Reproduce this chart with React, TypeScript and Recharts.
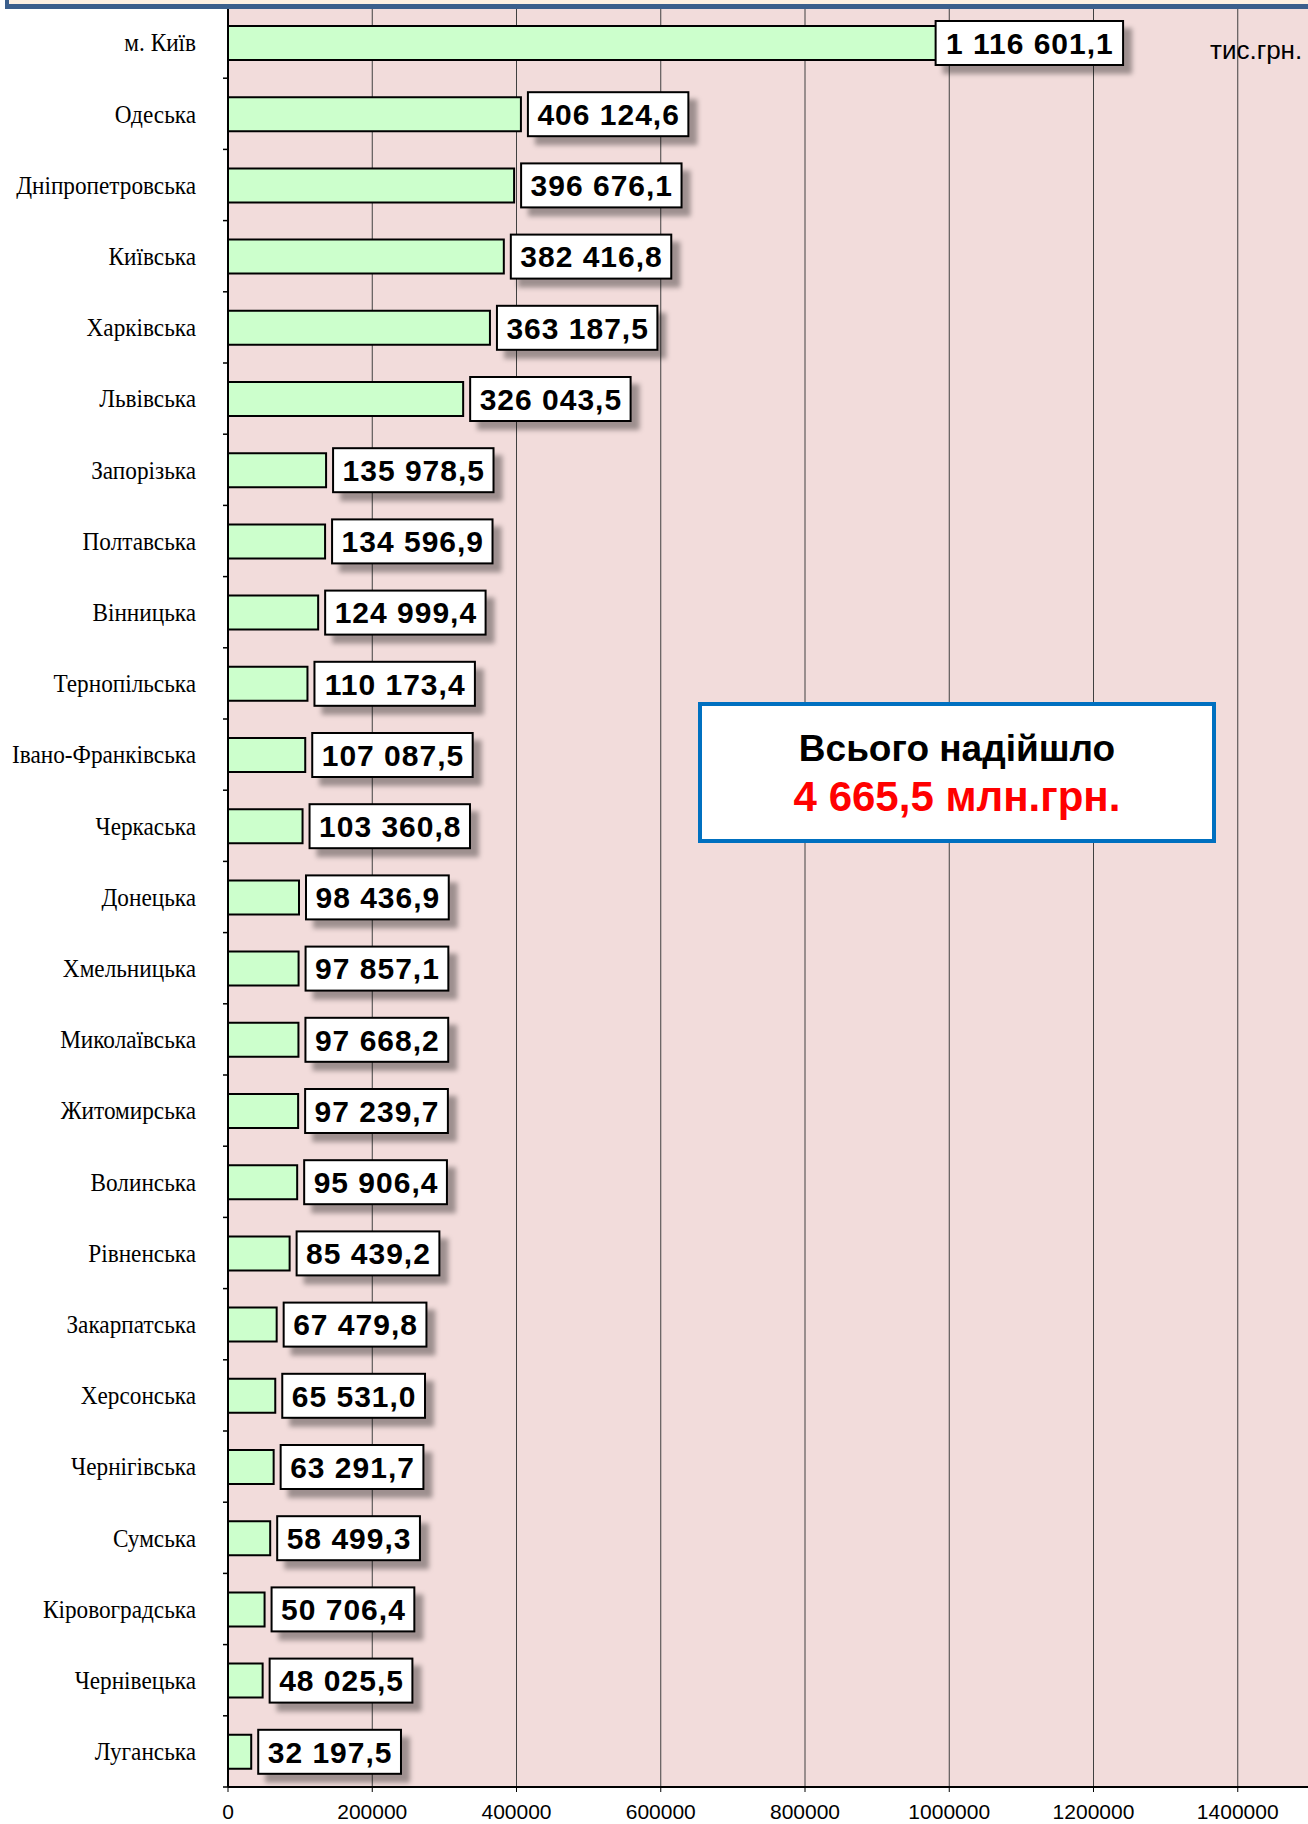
import React from 'react'
import { BarChart, Bar, XAxis, YAxis, CartesianGrid, LabelList } from 'recharts'

const regions = [
  'м. Київ',
  'Одеська',
  'Дніпропетровська',
  'Київська',
  'Харківська',
  'Львівська',
  'Запорізька',
  'Полтавська',
  'Вінницька',
  'Тернопільська',
  'Івано-Франківська',
  'Черкаська',
  'Донецька',
  'Хмельницька',
  'Миколаївська',
  'Житомирська',
  'Волинська',
  'Рівненська',
  'Закарпатська',
  'Херсонська',
  'Чернігівська',
  'Сумська',
  'Кіровоградська',
  'Чернівецька',
  'Луганська',
]

// тис.грн.
const receipts = [
  1116601.1, 406124.6, 396676.1, 382416.8, 363187.5, 326043.5, 135978.5, 134596.9,
  124999.4, 110173.4, 107087.5, 103360.8, 98436.9, 97857.1, 97668.2, 97239.7, 95906.4,
  85439.2, 67479.8, 65531.0, 63291.7, 58499.3, 50706.4, 48025.5, 32197.5,
]

const xTicks = [0, 200000, 400000, 600000, 800000, 1000000, 1200000, 1400000]

const unitLabel = 'тис.грн.'
const totalTitle = 'Всього надійшло'
const totalValue = '4 665,5 млн.грн.'

const data = regions.map((region, i) => ({ region, value: receipts[i] }))

const CHART_W = 1400
const CHART_H = 1824
const X_AXIS_H = 30
const MARGIN = { top: 7, right: 18, bottom: 7, left: 0 }
const BAND = (CHART_H - MARGIN.top - MARGIN.bottom - X_AXIS_H) / regions.length

const SANS = "'Liberation Sans', Arial, sans-serif"
const SERIF = "'Liberation Serif', 'Times New Roman', serif"

function fmt(v: number) {
  const [int, dec] = v.toFixed(1).split('.')
  return int.replace(/\B(?=(\d{3})+(?!\d))/g, ' ') + ',' + dec
}

// rough width of bold 30px digits text
function labelWidth(s: string) {
  let w = 0
  for (const ch of s) w += /\d/.test(ch) ? 16.68 : 8.34
  return w + s.length
}

function RegionTick({ x, y, payload }: any) {
  return (
    <g>
      <line x1={x - 5} x2={x} y1={y + BAND / 2} y2={y + BAND / 2} stroke="#000" strokeWidth={1.5} />
      <text
        transform={`translate(${x - 32},${y}) scale(0.93,1)`}
        textAnchor="end"
        dy="0.35em"
        fontFamily={SERIF}
        fontSize={25}
        fill="#000"
      >
        {payload.value}
      </text>
    </g>
  )
}

function ValueLabel(props: any) {
  const { x, y, width, height, value } = props
  const text = fmt(Number(value))
  const bw = labelWidth(text) + 18
  const bh = 44
  const end = x + width
  const bx = value > 1000000 ? end - bw / 2 - 4 : end + 7
  const cy = y + height / 2
  return (
    <g>
      <rect
        x={bx}
        y={cy - bh / 2}
        width={bw}
        height={bh}
        fill="#fff"
        stroke="#000"
        strokeWidth={2}
        filter="url(#boxShadow)"
      />
      <text
        x={bx + bw / 2 + 0.5}
        y={cy}
        dy="0.36em"
        textAnchor="middle"
        fontFamily={SANS}
        fontWeight="bold"
        fontSize={30}
        letterSpacing={1}
        fill="#000"
      >
        {text}
      </text>
    </g>
  )
}

export default function App() {
  return (
    <div
      style={{
        position: 'absolute',
        left: 0,
        top: 0,
        width: 1308,
        height: 1824,
        overflow: 'hidden',
        background: '#fff',
      }}
    >
      <BarChart width={CHART_W} height={CHART_H} data={data} layout="vertical" margin={MARGIN}>
        <defs>
          <filter id="boxShadow" x="-20%" y="-40%" width="150%" height="190%">
            <feDropShadow dx={8} dy={8} stdDeviation={2.5} floodColor="#000" floodOpacity={0.35} />
          </filter>
        </defs>
        <CartesianGrid vertical horizontal={false} fill="#f2dcdb" stroke="#404040" strokeWidth={1} />
        <XAxis
          type="number"
          domain={[0, 1600000]}
          ticks={xTicks}
          interval={0}
          height={X_AXIS_H}
          tickFormatter={(v) => String(v)}
          tick={{ fontSize: 21, fill: '#000', fontFamily: SANS }}
          axisLine={{ stroke: '#000', strokeWidth: 2 }}
          tickLine={{ stroke: '#000' }}
          tickSize={5}
          tickMargin={12}
        />
        <YAxis
          type="category"
          dataKey="region"
          width={228}
          interval={0}
          tick={<RegionTick />}
          tickSize={0}
          tickMargin={0}
          axisLine={{ stroke: '#000', strokeWidth: 2 }}
        />
        <Bar
          dataKey="value"
          fill="#ccffcc"
          stroke="#000"
          strokeWidth={2}
          barSize={34}
          isAnimationActive={false}
        >
          <LabelList dataKey="value" content={<ValueLabel />} />
        </Bar>
      </BarChart>

      {/* cut-off title banner */}
      <div
        style={{
          position: 'absolute',
          left: 5,
          top: -36,
          width: 1400,
          height: 45,
          boxSizing: 'border-box',
          background: '#fdf0e2',
          border: '4px solid #3b5f8c',
          borderBottomWidth: 5,
        }}
      />

      <div
        style={{
          position: 'absolute',
          left: 1210,
          top: 37,
          fontFamily: SANS,
          fontSize: 26,
          lineHeight: 1,
          color: '#000',
          whiteSpace: 'nowrap',
        }}
      >
        {unitLabel}
      </div>

      <div
        style={{
          position: 'absolute',
          left: 698,
          top: 702,
          width: 518,
          height: 141,
          boxSizing: 'border-box',
          border: '4px solid #0070c0',
          background: '#fff',
        }}
      />
      <div
        style={{
          position: 'absolute',
          left: 698,
          top: 730,
          width: 518,
          textAlign: 'center',
          fontFamily: SANS,
          fontWeight: 'bold',
          fontSize: 37,
          lineHeight: 1,
          color: '#000',
        }}
      >
        {totalTitle}
      </div>
      <div
        style={{
          position: 'absolute',
          left: 698,
          top: 776,
          width: 518,
          textAlign: 'center',
          fontFamily: SANS,
          fontWeight: 'bold',
          fontSize: 42,
          lineHeight: 1,
          color: '#ff0000',
        }}
      >
        {totalValue}
      </div>
    </div>
  )
}
